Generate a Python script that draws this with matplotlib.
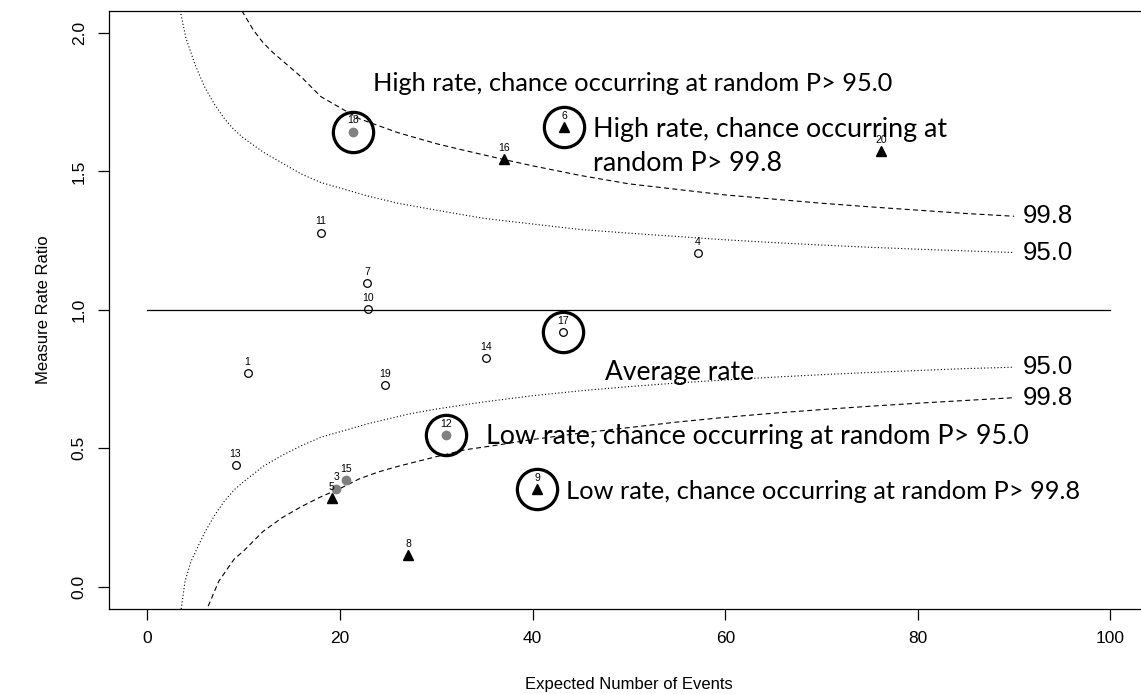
import numpy as np
import matplotlib.pyplot as plt

# expected events and measured rate ratio per unit
unit_ids = [1, 3, 4, 5, 6, 7, 8, 9, 10, 11, 12, 13, 14, 15, 16, 17, 18, 19, 20]
expected = [10.4, 19.6, 57.15, 19.15, 43.3, 22.8, 27.1, 40.5, 22.95, 17.97, 31.0, 9.14, 35.2, 20.6, 37.0, 43.2, 21.3, 24.7, 76.2]
ratio = [0.772, 0.355, 1.206, 0.319, 1.659, 1.096, 0.116, 0.352, 1.002, 1.279, 0.547, 0.441, 0.827, 0.386, 1.543, 0.921, 1.644, 0.729, 1.573]
# 0 = within limits, 1 = outside 95.0, 2 = outside 99.8
flag = [0, 1, 0, 2, 2, 0, 2, 2, 0, 0, 1, 0, 0, 1, 2, 0, 1, 0, 2]

# control limits
up95_x = [3.4, 4, 5, 6, 7, 8, 9, 10, 12, 14, 16, 18, 20, 23, 26, 30, 35, 40, 45, 50, 55, 60, 65, 70, 75, 80, 85, 90]
up95_y = [2.08, 1.98, 1.88, 1.80, 1.74, 1.69, 1.65, 1.62, 1.57, 1.53, 1.49, 1.46, 1.44, 1.41, 1.385, 1.36, 1.33, 1.31,
          1.29, 1.277, 1.265, 1.253, 1.243, 1.234, 1.226, 1.219, 1.213, 1.207]
up998_x = [9.8, 11, 12, 13, 14, 15, 16, 18, 20, 22, 24, 26, 28, 30, 33, 37, 40, 45, 50, 55, 60, 65, 70, 75, 80, 85, 90]
up998_y = [2.08, 2.01, 1.965, 1.93, 1.90, 1.87, 1.84, 1.77, 1.73, 1.69, 1.665, 1.64, 1.62, 1.60, 1.575, 1.543, 1.52,
           1.485, 1.455, 1.435, 1.415, 1.40, 1.385, 1.372, 1.36, 1.348, 1.338]
lo95_x = [3.5, 3.9, 4.5, 5.3, 6, 7, 8, 9, 10, 12, 14, 16, 18, 20, 23, 27, 30, 35, 40, 45, 50, 55, 60, 65, 70, 75, 80, 85, 90]
lo95_y = [-0.08, 0.02, 0.09, 0.15, 0.20, 0.26, 0.31, 0.35, 0.38, 0.435, 0.475, 0.51, 0.54, 0.56, 0.59, 0.623, 0.642,
          0.668, 0.69, 0.708, 0.723, 0.736, 0.747, 0.757, 0.766, 0.774, 0.781, 0.788, 0.793]
lo998_x = [6.3, 7.4, 8, 9, 10, 11, 12, 13, 14, 16, 18, 20, 22, 24, 26, 30, 33, 36, 40, 45, 50, 55, 60, 65, 70, 75, 80, 85, 90]
lo998_y = [-0.07, 0.02, 0.05, 0.10, 0.13, 0.165, 0.20, 0.225, 0.25, 0.29, 0.325, 0.355, 0.39, 0.415, 0.435, 0.47, 0.495,
           0.51, 0.532, 0.555, 0.575, 0.595, 0.612, 0.627, 0.64, 0.652, 0.663, 0.673, 0.683]

circled = [18, 6, 17, 12, 9]

plt.rcParams['font.family'] = ['Liberation Sans', 'DejaVu Sans']
fig = plt.figure(figsize=(11.41, 6.94), dpi=100)
ax = fig.add_axes([0.0955, 0.1225, 0.9115, 0.862])

ax.plot([0, 100], [1, 1], color='black', lw=0.9)
dotted = (0, (1, 2))
dashed = (0, (4.5, 3))
ax.plot(up95_x, up95_y, color='black', lw=0.8, ls=dotted)
ax.plot(lo95_x, lo95_y, color='black', lw=0.8, ls=dotted)
ax.plot(up998_x, up998_y, color='black', lw=0.8, ls=dashed)
ax.plot(lo998_x, lo998_y, color='black', lw=0.8, ls=dashed)

for uid, x, y, f in zip(unit_ids, expected, ratio, flag):
    if f == 0:
        ax.plot(x, y, 'o', ms=5.5, mfc='none', mec='black', mew=0.9)
    elif f == 1:
        ax.plot(x, y, 'o', ms=6, mfc='#808080', mec='#808080')
    else:
        ax.plot(x, y, '^', ms=7, mfc='black', mec='black')
    ax.annotate(str(uid), (x, y), xytext=(0, 8), textcoords='offset points',
                ha='center', va='center', fontsize=7.5)
    if uid in circled:
        ax.plot(x, y, 'o', ms=29, mfc='none', mec='black', mew=2.3)

# limit labels at the end of each curve
for cx, cy, lab in [(up998_x, up998_y, '99.8'), (up95_x, up95_y, '95.0'),
                    (lo95_x, lo95_y, '95.0'), (lo998_x, lo998_y, '99.8')]:
    ax.text(cx[-1] + 0.9, cy[-1], lab, ha='left', va='center', fontsize=18.5)

note = dict(ha='left', va='center', family=['Lato', 'DejaVu Sans'])
ax.text(23.4, 1.817, 'High rate, chance occurring at random P> 95.0', fontsize=18.3, **note)
ax.text(46.3, 1.59, 'High rate, chance occurring at\nrandom P> 99.8', fontsize=19.4, linespacing=1.45, **note)
ax.text(47.5, 0.773, 'Average rate', fontsize=19, **note)
ax.text(35.2, 0.543, 'Low rate, chance occurring at random P> 95.0', fontsize=19.3, **note)
ax.text(43.5, 0.345, 'Low rate, chance occurring at random P> 99.8', fontsize=18.3, **note)

ax.set_xlim(-4, 104)
ax.set_ylim(-0.08, 2.08)
ax.set_xticks(np.arange(0, 101, 20))
ax.set_yticks([0.0, 0.5, 1.0, 1.5, 2.0])
ax.set_yticklabels(['0.0', '0.5', '1.0', '1.5', '2.0'], rotation=90, va='center')
ax.tick_params(direction='out', length=8, width=0.9, labelsize=12.5)
ax.tick_params(axis='x', pad=8)
ax.tick_params(axis='y', pad=8)
for s in ax.spines.values():
    s.set_linewidth(0.9)

ax.set_xlabel('Expected Number of Events', fontsize=12, labelpad=22)
ax.set_ylabel('Measure Rate Ratio', fontsize=12, labelpad=15)

fig.savefig('out.png', dpi=100)
